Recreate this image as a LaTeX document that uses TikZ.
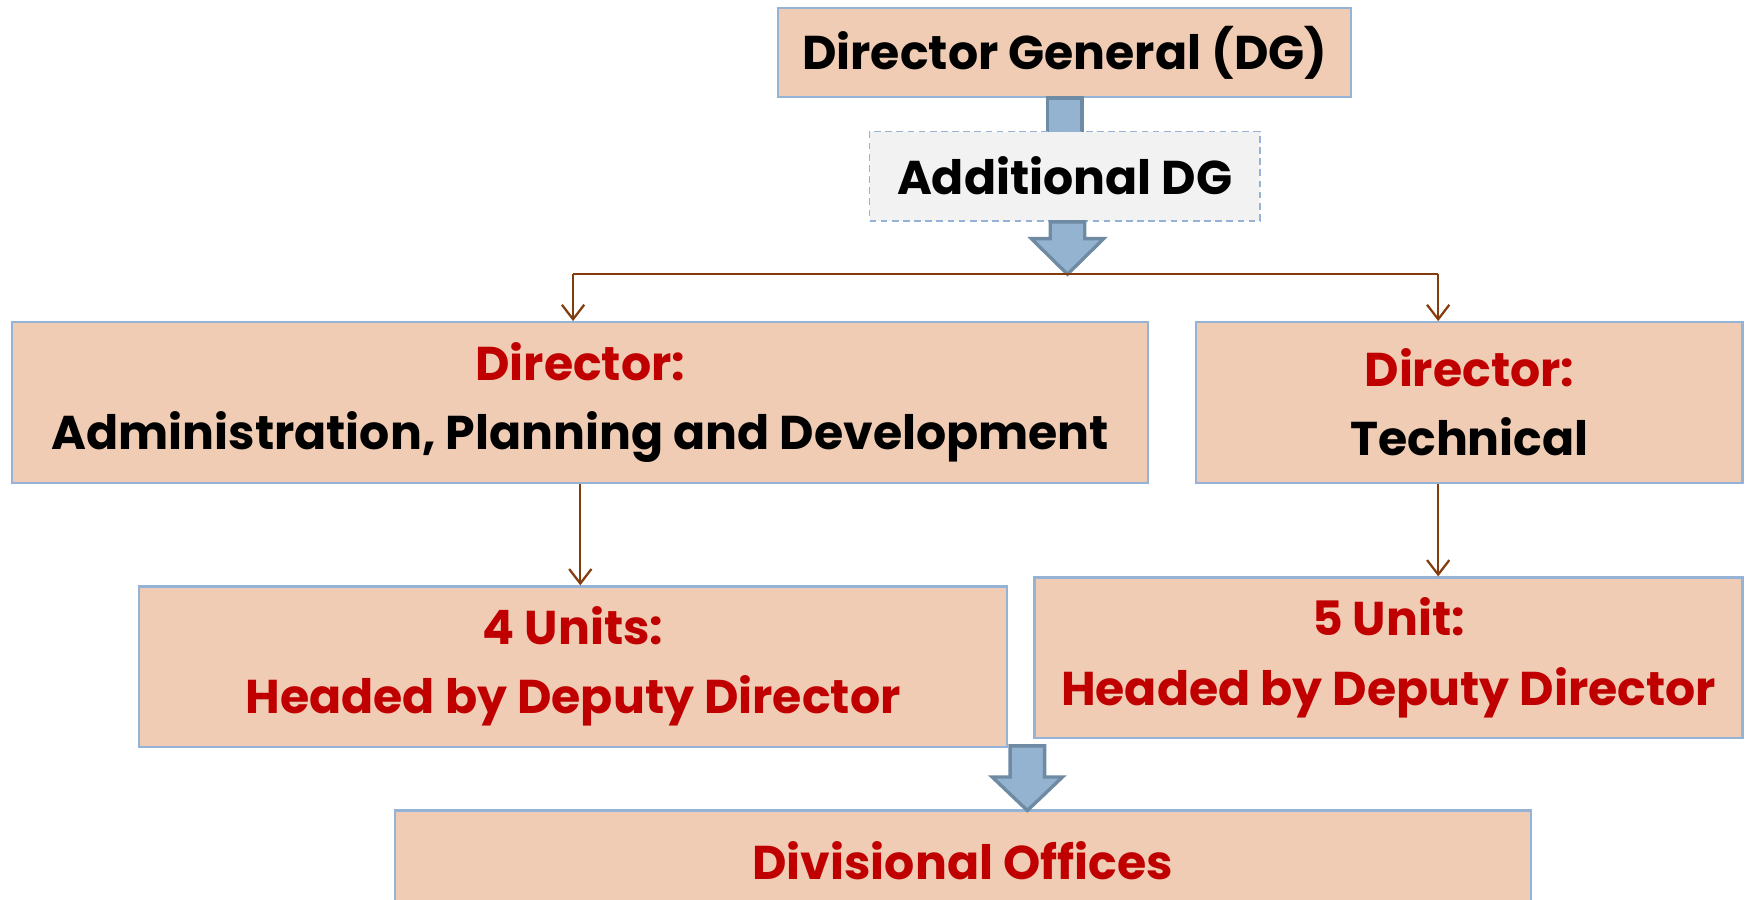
\documentclass[tikz,border=0pt]{standalone}
\usepackage{fontspec}
\setmainfont{Poppins}
\usetikzlibrary{arrows.meta}
\definecolor{peach}{RGB}{240,204,180}
\definecolor{boxline}{RGB}{149,179,215}
\definecolor{darkred}{RGB}{192,0,0}
\definecolor{brownline}{RGB}{132,60,12}
\definecolor{arrowfill}{RGB}{147,179,208}
\definecolor{arrowline}{RGB}{111,139,163}
\definecolor{lightgray}{RGB}{242,242,242}
\begin{document}
\begin{tikzpicture}[x=1pt,y=-1pt,
  txt/.style={font=\fontsize{42.5}{62}\selectfont\bfseries,align=center},
  orgbox/.style={txt,draw=boxline,line width=2pt,fill=peach,inner sep=0pt},
  conn/.style={draw=brownline,line width=2pt,-{Straight Barb[length=13pt,width=20pt]}},
  blockarrow/.style={fill=arrowfill,draw=arrowline,line width=3pt,line join=miter}]
\useasboundingbox (0,0) rectangle (1567,807);
\clip (0,0) rectangle (1567,807);

% Director General
\node[orgbox,minimum width=514pt,minimum height=80pt] (dg) at (955,47) {Director General (DG)};

% block arrow stem DG -> Additional DG (head hidden behind box)
\filldraw[blockarrow] ([xshift=-15.5pt]dg.south) -- ++(0,40) -- ++(31,0) -- ([xshift=15.5pt]dg.south) -- cycle;

% Additional DG
\node[txt,draw=boxline,line width=1.5pt,dash pattern=on 6pt off 4pt,fill=lightgray,inner sep=0pt,minimum width=350pt,minimum height=80pt] (add) at (955,158) {Additional DG};

% block arrow below Additional DG
\coordinate (tipA) at (957.5,246);
\filldraw[blockarrow] (942,199) -- (942,214) -- (925,214) -- (tipA) -- (990,214) -- (973,214) -- (973,199) -- cycle;

% Directors
\node[orgbox,minimum width=1019pt,minimum height=144pt] (dirA) at (520.5,361)
  {{\color{darkred}Director:}\\Administration, Planning and Development};
\node[orgbox,minimum width=490pt,minimum height=144pt] (dirT) at (1318,361)
  {{\color{darkred}Director:}\\Technical};

% branch connectors
\coordinate (hl) at (514,246);
\coordinate (hr) at (1290,246);
\draw[brownline,line width=2pt] (hl) -- (hr);
\draw[conn] (hl) -- (hl |- dirA.north);
\draw[conn] (hr) -- (hr |- dirT.north);

% Units
\node[orgbox,text=darkred,minimum width=778pt,minimum height=144pt] (units4) at (514,598)
  {4 Units:\\Headed by Deputy Director};
\node[orgbox,text=darkred,minimum width=635pt,minimum height=144pt] (unit5) at (1245.5,590)
  {5 Unit:\\Headed by Deputy Director};

\draw[conn] (dirA.south) -- (dirA.south |- units4.north);
\draw[conn] (dirT.south -| hr) -- (hr |- unit5.north);

% Divisional offices
\node[orgbox,minimum width=1019pt,minimum height=144pt] (div) at (863.5,799) {};
\node[txt,text=darkred] (divtxt) at (863.5,772) {Divisional Offices};

% block arrow to Divisional offices
\coordinate (tipB) at (921.5,727);
\filldraw[blockarrow] (906,669) -- (906,697) -- (890,697) -- (tipB) -- (953,697) -- (937,697) -- (937,669) -- cycle;
\end{tikzpicture}
\end{document}
